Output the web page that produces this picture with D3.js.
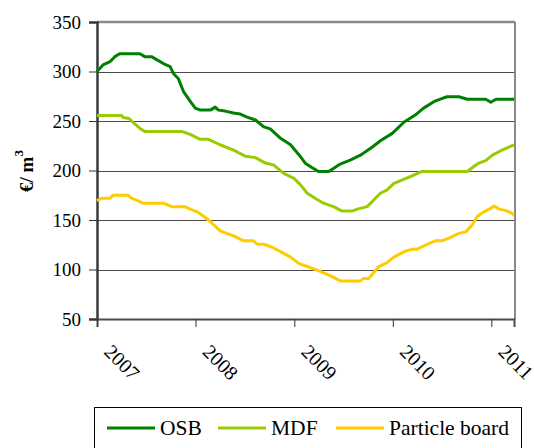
<!DOCTYPE html>
<html>
<head>
<meta charset="utf-8">
<script src="https://cdn.jsdelivr.net/npm/d3@7"></script>
<style>
  html, body { margin: 0; padding: 0; background: #fff; }
  svg { display: block; }
  text { font-family: "Liberation Serif", "Times New Roman", serif; fill: #000; }
</style>
</head>
<body>
<svg id="chart" width="534" height="448"></svg>
<script>
// Panel prices, €/m³
const yearLabels = ["2007", "2008", "2009", "2010", "2011"];
const yTicks = [50, 100, 150, 200, 250, 300, 350];
const seriesNames = ["OSB", "MDF", "Particle board"];
const seriesColors = ["#008000", "#99CC00", "#FFCC00"];

const osbDates = ["2007-01-01","2007-01-25","2007-02-19","2007-03-08","2007-03-26","2007-06-09","2007-06-27","2007-07-22","2007-08-10","2007-09-04","2007-09-29","2007-10-11","2007-10-29","2007-11-17","2007-12-12","2007-12-31","2008-01-19","2008-02-25","2008-03-14","2008-03-26","2008-04-20","2008-05-21","2008-06-15","2008-07-10","2008-08-10","2008-09-10","2008-10-04","2008-11-11","2008-12-18","2009-01-18","2009-02-12","2009-03-07","2009-04-01","2009-05-08","2009-05-26","2009-06-20","2009-07-27","2009-09-03","2009-10-16","2009-11-16","2009-12-30","2010-02-12","2010-03-25","2010-04-25","2010-06-02","2010-06-26","2010-07-21","2010-09-03","2010-10-04","2010-12-11","2010-12-30","2011-01-18","2011-03-26"];
const osbValues = [300,307,310,315,318,318,315,315,312,308,305,298,293,280,270,263,261,261,264,261,260,258,257,254,251,244,242,232.5,226,216,207,203,199,199,202,206.5,210.5,215.5,223.5,230,237.5,249,256,263,269.5,272,274.5,274.5,272,272,269,272,272];

const mdfDates = ["2007-01-01","2007-04-02","2007-04-08","2007-04-30","2007-05-21","2007-06-09","2007-06-27","2007-11-11","2007-12-12","2008-01-19","2008-02-18","2008-04-01","2008-05-21","2008-07-03","2008-08-10","2008-09-16","2008-10-17","2008-11-23","2008-12-31","2009-01-24","2009-02-18","2009-03-19","2009-04-19","2009-05-26","2009-06-27","2009-08-03","2009-08-22","2009-09-28","2009-10-16","2009-11-16","2009-12-11","2010-01-05","2010-02-06","2010-03-13","2010-04-19","2010-10-04","2010-10-28","2010-11-16","2010-12-11","2011-01-05","2011-02-05","2011-03-26"];
const mdfValues = [255.5,255.5,253.5,252.5,247,242.5,239.5,239.5,236.5,231.5,231.5,226,220.5,214.5,213,207.5,205.5,197,192,185.5,177,172,167,163.5,159,159,161,163.5,168.5,177,180.5,187,190.5,194.5,199,199,204,207.5,210,215.5,220,226];

const pbDates = ["2007-01-01","2007-01-19","2007-02-19","2007-03-01","2007-04-26","2007-05-08","2007-05-27","2007-06-21","2007-09-04","2007-10-05","2007-11-23","2007-12-12","2008-01-06","2008-02-01","2008-02-25","2008-04-01","2008-05-21","2008-06-27","2008-08-03","2008-08-16","2008-09-10","2008-10-11","2008-11-11","2008-12-18","2009-01-18","2009-03-01","2009-04-07","2009-05-20","2009-06-20","2009-09-03","2009-09-15","2009-10-04","2009-11-10","2009-12-11","2010-01-05","2010-02-12","2010-03-13","2010-04-01","2010-05-01","2010-06-08","2010-07-02","2010-08-03","2010-09-03","2010-09-28","2010-10-22","2010-11-10","2010-11-29","2010-12-24","2011-01-12","2011-01-31","2011-02-24","2011-03-13","2011-03-26"];
const pbValues = [169.5,172,172,175,175,172,170,167,167,163.5,163.5,161,158.5,153.5,148.5,139,134,129,129,125.5,125.5,122.5,118,112.5,106,102,98,93,88.5,88.5,91,91,103,107,112.5,118,120.5,120.5,124.5,129,129,132.5,136.5,138,145,153.5,157.5,161,164,161,159.5,157.5,155];

const parse = d3.timeParse("%Y-%m-%d");
const series = [
  { name: seriesNames[0], color: seriesColors[0], dates: osbDates, values: osbValues },
  { name: seriesNames[1], color: seriesColors[1], dates: mdfDates, values: mdfValues },
  { name: seriesNames[2], color: seriesColors[2], dates: pbDates, values: pbValues }
].map(s => ({ ...s, points: s.dates.map((d, i) => ({ date: parse(d), value: s.values[i] })) }));

const plotLeft = 97, plotRight = 514, plotTop = 22, plotBottom = 319;
const svg = d3.select("#chart");

const x = d3.scaleTime()
  .domain([parse("2007-01-01"), parse("2011-03-26")])
  .range([plotLeft, plotRight]);
const y = d3.scaleLinear().domain([50, 350]).range([plotBottom, plotTop]);

// Horizontal gridlines
svg.append("g")
  .selectAll("line")
  .data(yTicks.slice(1, -1))
  .join("line")
  .attr("x1", plotLeft).attr("x2", plotRight)
  .attr("y1", d => Math.round(y(d)) + 0.5).attr("y2", d => Math.round(y(d)) + 0.5)
  .attr("stroke", "#4a4a4a").attr("stroke-width", 1);

// Plot frame: top and right edges
svg.append("line")
  .attr("x1", plotLeft).attr("x2", plotRight + 1)
  .attr("y1", y(350)).attr("y2", y(350))
  .attr("stroke", "#8a8a8a").attr("stroke-width", 2.5);
svg.append("line")
  .attr("x1", plotRight + 1).attr("x2", plotRight + 1)
  .attr("y1", y(350)).attr("y2", plotBottom)
  .attr("stroke", "#8a8a8a").attr("stroke-width", 2);

// Y axis
const yAxis = svg.append("g")
  .attr("transform", `translate(${plotLeft},0)`)
  .call(d3.axisLeft(y).tickValues(yTicks).tickSize(8).tickPadding(8).tickFormat(d3.format("d")));
yAxis.select(".domain").attr("stroke", "#3a3a3a").attr("stroke-width", 2.5);
yAxis.selectAll(".tick line").attr("stroke", "#333");
yAxis.selectAll(".tick text")
  .style("font-family", "'Liberation Serif', serif")
  .attr("font-size", 19).attr("fill", "#111");

// X axis with yearly ticks
const yearDates = yearLabels.map(yr => parse(yr + "-01-01"));
const xAxis = svg.append("g")
  .attr("transform", `translate(0,${plotBottom})`)
  .call(d3.axisBottom(x).tickValues(yearDates).tickSize(8).tickFormat(""));
xAxis.select(".domain").attr("stroke", "#4a4a4a").attr("stroke-width", 2);
xAxis.selectAll(".tick line").attr("stroke", "#333");

// Year labels, slanted down to the right (the last one runs off the edge)
svg.append("g")
  .selectAll("text")
  .data(yearDates)
  .join("text")
  .attr("transform", d => `translate(${x(d) + 6},353) rotate(45)`)
  .attr("font-size", 20)
  .attr("fill", "#111")
  .text((d, i) => yearLabels[i]);

// Y axis title
const yTitle = svg.append("text")
  .attr("transform", "translate(33,171) rotate(-90)")
  .attr("text-anchor", "middle")
  .attr("font-size", 19)
  .attr("font-weight", "bold");
yTitle.append("tspan").text("€/ m");
yTitle.append("tspan").attr("font-size", 13).attr("dy", -10).text("3");

// Series lines
const line = d3.line().x(d => x(d.date)).y(d => y(d.value));
svg.append("g")
  .selectAll("path")
  .data(series)
  .join("path")
  .attr("d", d => line(d.points))
  .attr("fill", "none")
  .attr("stroke", d => d.color)
  .attr("stroke-width", 3)
  .attr("stroke-linejoin", "round");

// Legend
svg.append("rect")
  .attr("x", 94.5).attr("y", 407.5)
  .attr("width", 427).attr("height", 60)
  .attr("fill", "#fff").attr("stroke", "#000").attr("stroke-width", 1);

const legendX = [107, 218, 336];
const legend = svg.append("g")
  .selectAll("g")
  .data(series)
  .join("g")
  .attr("transform", (d, i) => `translate(${legendX[i]},428)`);
legend.append("line")
  .attr("x1", 0).attr("x2", 48)
  .attr("stroke", d => d.color).attr("stroke-width", 3);
legend.append("text")
  .attr("x", 53).attr("y", 7)
  .attr("font-size", 21.5)
  .attr("fill", "#111")
  .text(d => d.name);
</script>
</body>
</html>
